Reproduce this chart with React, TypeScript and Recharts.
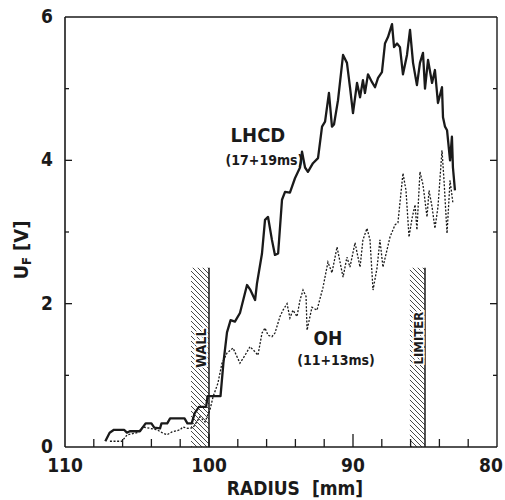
import React from "react";
import {
  ComposedChart,
  Line,
  XAxis,
  YAxis,
  ReferenceArea,
  ReferenceLine,
  ReferenceDot,
} from "recharts";

// radius [mm] and floating potential U_F [V]
const lhcdRadius = [
  107.2, 106.9, 106.6, 105.9, 105.7, 105.5, 104.8, 104.4, 104.0, 103.8, 103.4, 103.3,
  102.9, 102.7, 101.7, 101.5, 101.2, 101.0, 100.7, 100.2, 100.1, 99.2, 99.0, 98.75,
  98.5, 98.2, 97.85, 97.36, 97.15, 96.8, 96.67, 96.32, 96.11, 95.9, 95.63, 95.42,
  95.2, 94.93, 94.72, 94.38, 94.03, 93.68, 93.54, 93.33, 93.13, 92.78, 92.43, 92.15,
  91.94, 91.67, 91.46, 91.32, 91.04, 90.69, 90.42, 90.21, 90.0, 89.72, 89.51, 89.31,
  89.17, 88.96, 88.68, 88.47, 88.26, 87.99, 87.78, 87.57, 87.29, 87.15, 86.94, 86.74,
  86.53, 86.25, 86.04, 85.83, 85.56, 85.35, 85.14, 85.0, 84.79, 84.51, 84.31, 84.1,
  83.82, 83.75, 83.61, 83.47, 83.26, 83.13, 83.06, 82.92,
];
const lhcdU = [
  0.08, 0.2, 0.24, 0.24, 0.2, 0.22, 0.22, 0.33, 0.33, 0.27, 0.26, 0.33,
  0.33, 0.4, 0.4, 0.33, 0.33, 0.47, 0.56, 0.56, 0.71, 0.71, 1.17, 1.6,
  1.77, 1.75, 1.87, 2.26, 2.2, 2.05, 2.28, 2.7, 3.17, 3.21, 2.89, 2.68,
  2.7, 3.45, 3.56, 3.55, 3.75, 3.9, 4.12, 3.9, 3.84, 3.96, 4.03, 4.47,
  4.54, 4.94, 4.47, 4.5, 4.84, 5.47, 5.36, 5.02, 4.66, 5.08, 4.88, 5.12,
  4.94, 5.2, 5.09, 5.02, 5.15, 5.23, 5.63, 5.72, 5.9, 5.58, 5.63, 5.58,
  5.2, 5.47, 5.82, 5.36, 5.05, 5.36, 5.5, 5.0, 5.4, 5.08, 5.26, 4.8,
  5.02, 4.6, 4.47, 4.42, 4.0, 4.33, 3.9, 3.58,
];

const ohRadius = [
  106.88, 106.04, 105.69, 105.0, 104.58, 104.1, 103.61, 103.26, 102.92, 102.57, 102.01, 101.81,
  101.46, 101.11, 100.63, 100.28, 99.93, 99.72, 99.38, 99.1, 98.75, 98.33, 97.85, 97.5,
  97.15, 96.81, 96.6, 96.32, 96.11, 95.9, 95.63, 95.42, 95.07, 94.86, 94.58, 94.38,
  94.17, 93.89, 93.68, 93.47, 93.26, 93.19, 92.85, 92.5, 92.08, 91.74, 91.46, 91.11,
  90.9, 90.69, 90.42, 90.21, 89.86, 89.51, 89.31, 89.03, 88.82, 88.61, 88.33, 88.13,
  87.92, 87.43, 87.08, 86.88, 86.53, 86.32, 86.11, 85.9, 85.69, 85.56, 85.35, 85.14,
  84.86, 84.72, 84.51, 84.31, 84.1, 83.82, 83.68, 83.47, 83.26, 83.06,
];
const ohU = [
  0.08, 0.08, 0.17, 0.2, 0.28, 0.26, 0.24, 0.2, 0.17, 0.21, 0.24, 0.28,
  0.26, 0.27, 0.42, 0.35, 0.52, 0.7, 0.89, 1.17, 1.31, 1.38, 1.17, 1.28,
  1.4, 1.33, 1.28, 1.59, 1.66, 1.56, 1.54, 1.59, 1.82, 1.91, 2.0, 1.8,
  1.91, 1.82, 2.05, 2.19, 2.1, 1.63, 1.95, 1.91, 2.23, 2.58, 2.43, 2.79,
  2.58, 2.37, 2.65, 2.51, 2.85, 2.51, 2.89, 3.05, 2.89, 2.19, 2.5, 2.89,
  2.51, 2.93, 3.1, 3.13, 3.82, 3.58, 2.93, 3.19, 3.38, 3.03, 3.84, 3.66,
  3.21, 3.58, 3.35, 3.05, 3.35, 4.14, 3.72, 2.98, 3.72, 3.4,
];

const xTicks = [80, 82, 84, 86, 88, 90, 92, 94, 96, 98, 100, 102, 104, 106, 108, 110];
const yTicks = [0, 1, 2, 3, 4, 5, 6];

// hatched zones: [outer radius, inner radius, height]
const wallZone = [101.25, 100, 2.5];
const limiterZone = [86.05, 85, 2.5];

const lhcdData = lhcdRadius.map((r, i) => ({ r, u: lhcdU[i] }));
const ohData = ohRadius.map((r, i) => ({ r, u: ohU[i] }));

const ink = "#1a1a1a";
const font = "'Liberation Sans Narrow', 'DejaVu Sans Condensed', 'Arial Narrow', sans-serif";

const BottomTick = (props: any) => {
  const { x, y, payload } = props;
  const v = payload.value;
  const major = v % 10 === 0;
  return (
    <g>
      {v !== 80 && v !== 110 && (
        <line x1={x} x2={x} y1={y} y2={y - (major ? 13 : 8)} stroke={ink} strokeWidth={1.3} />
      )}
      {major && (
        <text
          x={v === 80 ? x - 6 : x}
          y={y + 25}
          textAnchor="middle"
          fontFamily={font}
          fontWeight="bold"
          fontSize={19}
          fill={ink}
        >
          {v}
        </text>
      )}
    </g>
  );
};

const TopTick = (props: any) => {
  const { x, y, payload } = props;
  const v = payload.value;
  if (v === 80 || v === 110) return <g />;
  return <line x1={x} x2={x} y1={y} y2={y + (v % 10 === 0 ? 13 : 8)} stroke={ink} strokeWidth={1.3} />;
};

const LeftTick = (props: any) => {
  const { x, y, payload } = props;
  const v = payload.value;
  const major = v % 2 === 0;
  return (
    <g>
      {v !== 0 && v !== 6 && (
        <line x1={x} x2={x + (major ? 7 : 4)} y1={y} y2={y} stroke={ink} strokeWidth={1.3} />
      )}
      {major && (
        <text
          x={x - 12}
          y={y}
          dy={6}
          textAnchor="end"
          fontFamily={font}
          fontWeight="bold"
          fontSize={19}
          fill={ink}
        >
          {v}
        </text>
      )}
    </g>
  );
};

const RightTick = (props: any) => {
  const { x, y, payload } = props;
  const v = payload.value;
  if (v === 0 || v === 6) return <g />;
  return <line x1={x} x2={x - (v % 2 === 0 ? 7 : 4)} y1={y} y2={y} stroke={ink} strokeWidth={1.3} />;
};

const YTitle = (props: any) => {
  const vb = props.viewBox || { x: 0, y: 0, height: 500 };
  const cx = vb.x + 21;
  const cy = vb.y + vb.height / 2 + 18;
  return (
    <text
      x={cx}
      y={cy}
      transform={`rotate(-90 ${cx} ${cy})`}
      textAnchor="middle"
      dominantBaseline="central"
      fontFamily={font}
      fontWeight="bold"
      fontSize={20}
      fill={ink}
    >
      U
      <tspan fontSize={13} dy={5}>
        F
      </tspan>
      <tspan dy={-5} dx={6}>
        [V]
      </tspan>
    </text>
  );
};

const XTitle = (props: any) => {
  const vb = props.viewBox || { x: 0, y: 0, width: 500 };
  return (
    <text
      x={vb.x + 230}
      y={vb.y + 48}
      textAnchor="middle"
      fontFamily={font}
      fontWeight="bold"
      fontSize={19}
      fill={ink}
    >
      RADIUS
      <tspan dx={12}>[mm]</tspan>
    </text>
  );
};

const labelStyle = { fontFamily: font, fontWeight: "bold" as const, fill: ink };

const App: React.FC = () => {
  return (
    <div style={{ position: "absolute", left: 0, top: 0, width: 505, height: 500, background: "#fff" }}>
      <ComposedChart width={505} height={500} margin={{ top: 0, right: 0, bottom: 0, left: 0 }}>
        <defs>
          <pattern id="hatch" patternUnits="userSpaceOnUse" width={5} height={5}>
            <path d="M0,0 L5,5 M-1,4 L1,6 M4,-1 L6,1" stroke={ink} strokeWidth={0.8} />
          </pattern>
        </defs>
        <XAxis
          xAxisId={0}
          dataKey="r"
          type="number"
          domain={[80, 110]}
          reversed
          allowDataOverflow
          ticks={xTicks}
          interval={0}
          height={53}
          tickSize={0}
          tickMargin={0}
          tick={<BottomTick />}
          axisLine={{ stroke: ink, strokeWidth: 1.6 }}
          label={<XTitle />}
        />
        <XAxis
          xAxisId="top"
          orientation="top"
          type="number"
          domain={[80, 110]}
          reversed
          allowDataOverflow
          ticks={xTicks}
          interval={0}
          height={17}
          tickSize={0}
          tickMargin={0}
          tick={<TopTick />}
          axisLine={{ stroke: ink, strokeWidth: 1.4 }}
        />
        <YAxis
          yAxisId={0}
          type="number"
          domain={[0, 6]}
          allowDataOverflow
          ticks={yTicks}
          interval={0}
          width={65}
          tickSize={0}
          tickMargin={0}
          tick={<LeftTick />}
          axisLine={{ stroke: ink, strokeWidth: 1.6 }}
          label={<YTitle />}
        />
        <YAxis
          yAxisId="right"
          orientation="right"
          type="number"
          domain={[0, 6]}
          allowDataOverflow
          ticks={yTicks}
          interval={0}
          width={8}
          tickSize={0}
          tickMargin={0}
          tick={<RightTick />}
          axisLine={{ stroke: ink, strokeWidth: 1.4 }}
        />

        <ReferenceArea
          x1={wallZone[0]}
          x2={wallZone[1]}
          y1={0}
          y2={wallZone[2]}
          fill="url(#hatch)"
          fillOpacity={1}
          stroke="none"
        />
        <ReferenceArea
          x1={limiterZone[0]}
          x2={limiterZone[1]}
          y1={0}
          y2={limiterZone[2]}
          fill="url(#hatch)"
          fillOpacity={1}
          stroke="none"
        />
        <ReferenceLine
          segment={[
            { x: wallZone[1], y: 0 },
            { x: wallZone[1], y: wallZone[2] },
          ]}
          stroke={ink}
          strokeWidth={1.5}
        />
        <ReferenceLine
          segment={[
            { x: limiterZone[1], y: 0 },
            { x: limiterZone[1], y: limiterZone[2] },
          ]}
          stroke={ink}
          strokeWidth={1.5}
        />

        <Line
          data={ohData}
          dataKey="u"
          type="linear"
          stroke={ink}
          strokeWidth={1.3}
          strokeDasharray="2 1.6"
          dot={false}
          isAnimationActive={false}
        />
        <Line
          data={lhcdData}
          dataKey="u"
          type="linear"
          stroke={ink}
          strokeWidth={2.3}
          strokeLinejoin="round"
          dot={false}
          isAnimationActive={false}
        />

        <ReferenceDot
          x={100.56}
          y={1.38}
          r={0}
          fill="none"
          stroke="none"
          label={{
            value: "WALL",
            position: "center",
            angle: -90,
            fontSize: 14,
            stroke: "#fff",
            strokeWidth: 3,
            paintOrder: "stroke",
            ...labelStyle,
          }}
        />
        <ReferenceDot
          x={85.49}
          y={1.52}
          r={0}
          fill="none"
          stroke="none"
          label={{
            value: "LIMITER",
            position: "center",
            angle: -90,
            fontSize: 13,
            stroke: "#fff",
            strokeWidth: 3,
            paintOrder: "stroke",
            ...labelStyle,
          }}
        />
        <ReferenceDot
          x={96.6}
          y={4.35}
          r={0}
          fill="none"
          stroke="none"
          label={{ value: "LHCD", position: "center", fontSize: 20, ...labelStyle }}
        />
        <ReferenceDot
          x={96.15}
          y={4.0}
          r={0}
          fill="none"
          stroke="none"
          label={{ value: "(17+19ms)", position: "center", fontSize: 14, ...labelStyle }}
        />
        <ReferenceDot
          x={91.74}
          y={1.52}
          r={0}
          fill="none"
          stroke="none"
          label={{ value: "OH", position: "center", fontSize: 19, ...labelStyle }}
        />
        <ReferenceDot
          x={91.18}
          y={1.21}
          r={0}
          fill="none"
          stroke="none"
          label={{ value: "(11+13ms)", position: "center", fontSize: 14, ...labelStyle }}
        />
      </ComposedChart>
    </div>
  );
};

export default App;
